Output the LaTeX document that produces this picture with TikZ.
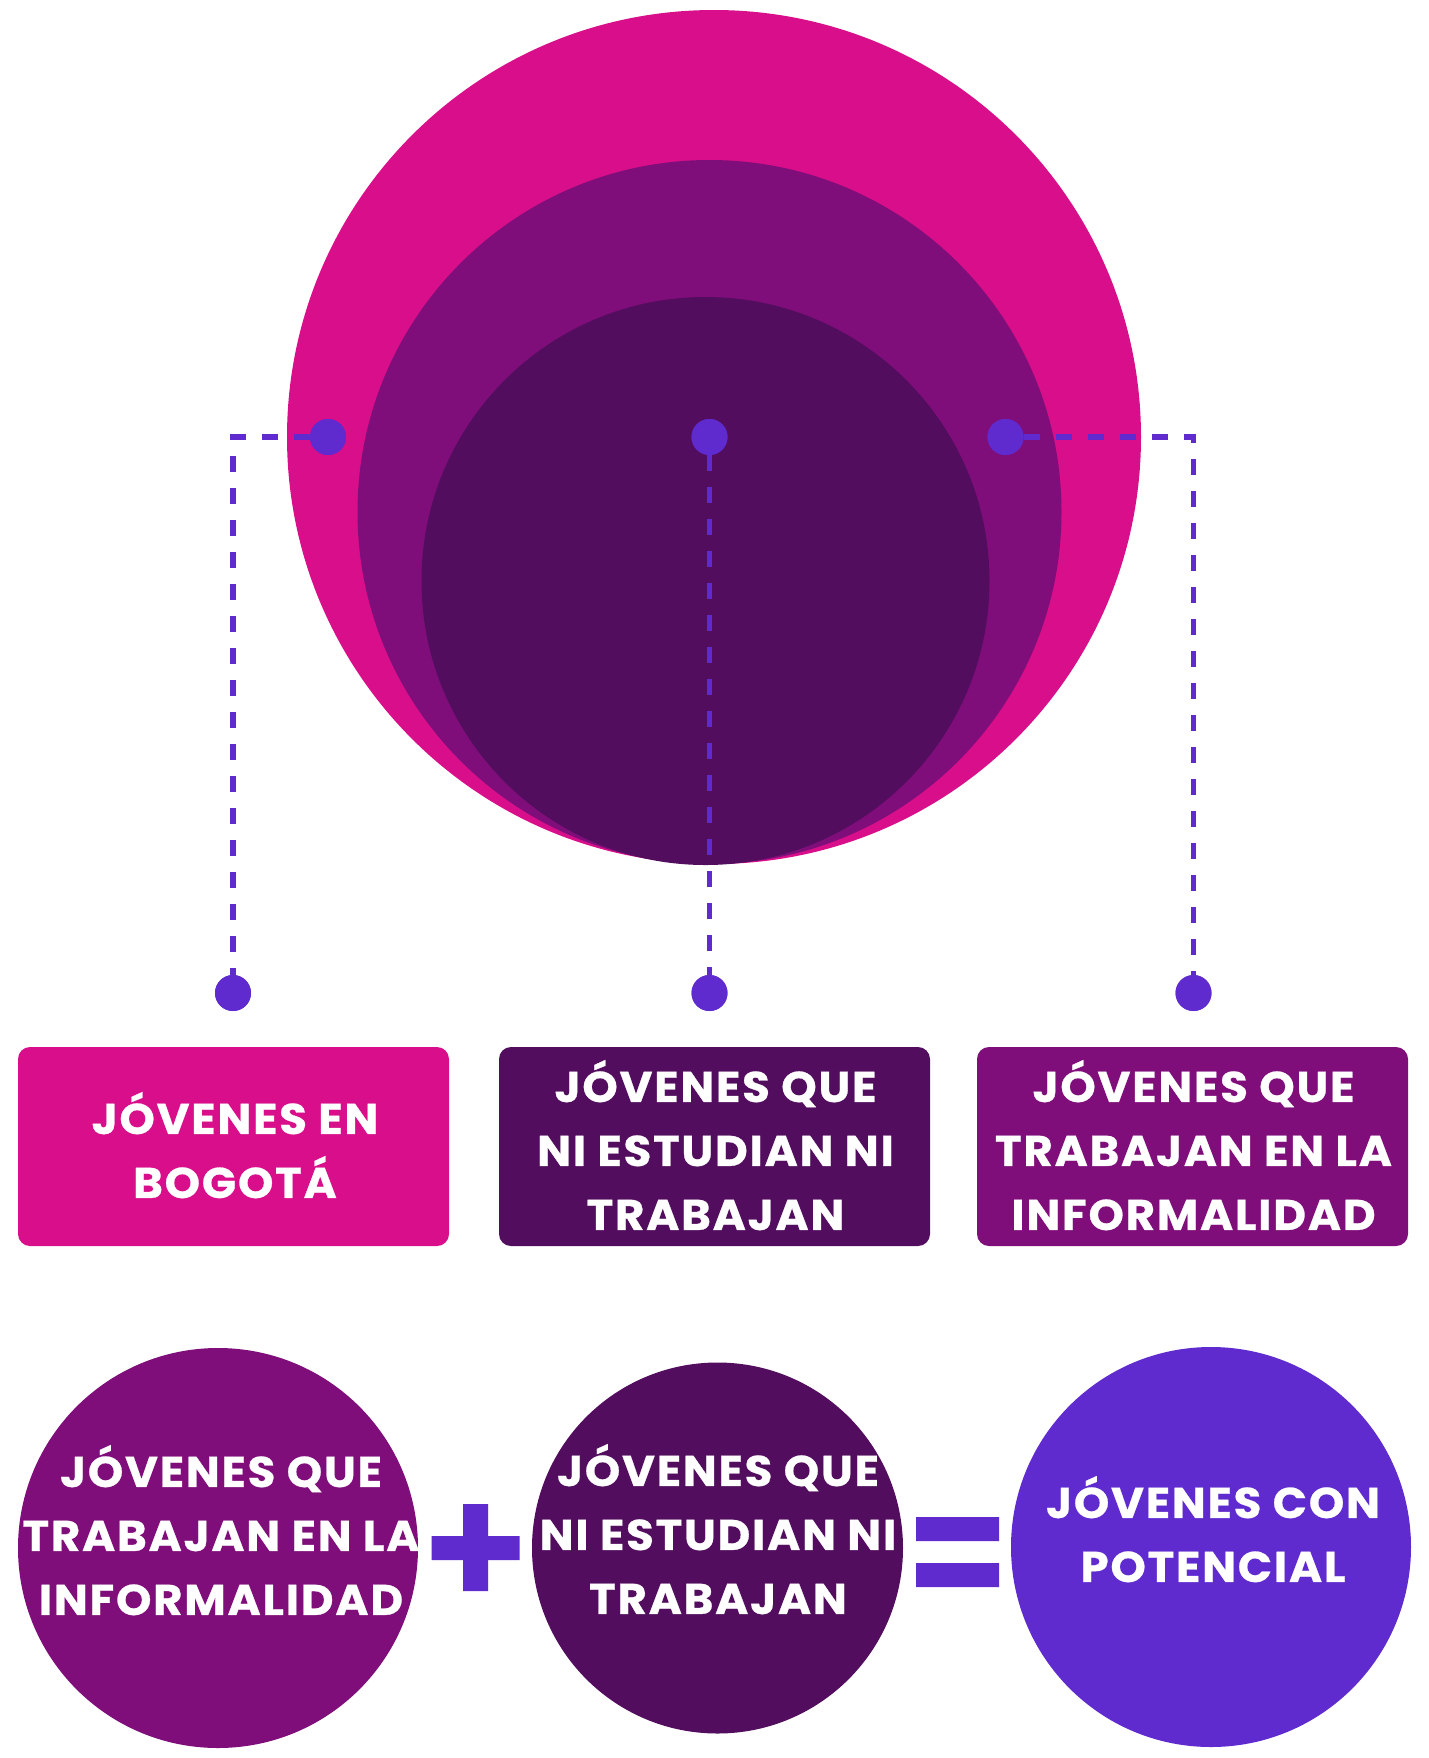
\documentclass[tikz,border=0pt]{standalone}
\usepackage{fontspec}
\setmainfont{Poppins}
\definecolor{cpink}{RGB}{216,14,138}
\definecolor{cpurple}{RGB}{127,14,122}
\definecolor{cdark}{RGB}{82,13,94}
\definecolor{cviolet}{RGB}{95,43,207}
\begin{document}
\begin{tikzpicture}[x=0.5pt,y=-0.5pt,
  every node/.style={inner sep=0pt, outer sep=0pt},
  disc/.style={circle, fill=#1, draw=none},
  dotnode/.style={circle, fill=cviolet, minimum size=18pt},
  box/.style={rectangle, rounded corners=6pt, fill=#1, minimum width=215.5pt, minimum height=99.5pt},
  lbl/.style={text=white, font=\fontsize{21.5}{32}\selectfont\bfseries\addfontfeature{LetterSpace=4,FakeStretch=1.05,FakeBold=0.6}, align=center, anchor=north,
     execute at begin node={\rule{0pt}{22pt}}},
  dashline/.style={cviolet, line width=2.8pt, dash pattern=on 8pt off 8pt},
  sign/.style={fill=cviolet}]
\useasboundingbox (0,0) rectangle (1429,1758);
% nested circles
\node[disc=cpink, minimum size=427pt] (big) at (714,437) {};
\node[disc=cpurple, minimum size=352pt] (mid) at (709.5,512) {};
\node[disc=cdark, minimum size=284pt] (inner) at (705.5,581) {};
% dots
\node[dotnode] (dL) at (328,437) {};
\node[dotnode] (dM) at (709.5,437) {};
\node[dotnode] (dR) at (1005.5,437) {};
\node[dotnode] (bL) at (233,993) {};
\node[dotnode] (bM) at (709.5,993) {};
\node[dotnode] (bR) at (1193.5,993) {};
% connectors
\draw[dashline] (dL.west) -| (bL.north);
\draw[dashline] (dM.south) -- (bM.north);
\draw[dashline] (dR.east) -| (bR.north);
\node[dotnode] at (dL) {};
\node[dotnode] at (dM) {};
\node[dotnode] at (dR) {};
\node[dotnode] at (bL) {};
\node[dotnode] at (bM) {};
\node[dotnode] at (bR) {};
% boxes
\node[box=cpink] (boxL) at (233.5,1146.5) {};
\node[box=cdark] (boxM) at (714.5,1146.5) {};
\node[box=cpurple] (boxR) at (1192.5,1146.5) {};
\node[lbl] (tL) at (235,1092) {JÓVENES EN\\BOGOTÁ};
\node[lbl] (tM) at (715.5,1060) {JÓVENES QUE\\NI ESTUDIAN NI\\TRABAJAN};
\node[lbl] (tR) at (1193.5,1060) {JÓVENES QUE\\TRABAJAN EN LA\\INFORMALIDAD};
% bottom equation
\node[disc=cpurple, minimum size=200pt] (c1) at (218,1548) {};
\node[disc=cdark, minimum size=185.5pt] (c2) at (717.5,1548) {};
\node[disc=cviolet, minimum size=200pt] (c3) at (1211,1547) {};
\node[lbl] (t1) at (221,1445) {JÓVENES QUE\\TRABAJAN EN LA\\INFORMALIDAD};
\node[lbl] (t2) at (718,1444) {JÓVENES QUE\\NI ESTUDIAN NI\\TRABAJAN};
\node[lbl] (t3) at (1213,1476) {JÓVENES CON\\POTENCIAL};
\fill[sign] (431.5,1536) rectangle (519.5,1560) (463,1504) rectangle (488,1591);
\fill[sign] (916,1517) rectangle (999,1541) (916,1563) rectangle (999,1587);
\end{tikzpicture}
\end{document}
